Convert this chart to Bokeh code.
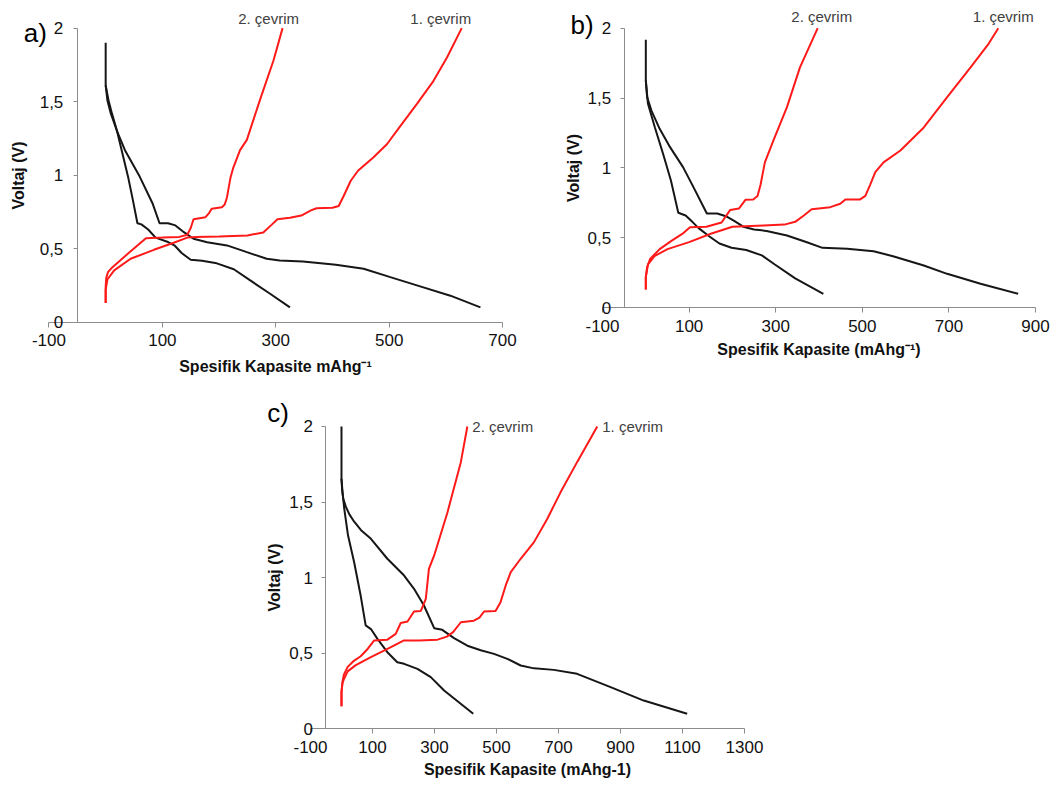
from bokeh.plotting import figure
from bokeh.models import FixedTicker, Label, Spacer
from bokeh.layouts import column, row
from bokeh.embed import file_html
from bokeh.resources import INLINE

# ---------------- data ----------------
y_ticks = [0, 0.5, 1, 1.5, 2]
y_tick_labels = ["0", "0,5", "1", "1,5", "2"]
y_title = "Voltaj (V)"
series_names = ["1. çevrim", "2. çevrim"]
y_axis_cross = -50  # capacity value where the vertical axis crosses

# panel a
a_x_ticks = [-100, 100, 300, 500, 700]
a_x_title = "Spesifik Kapasite mAhg\u207b\u00b9"
a_dis1_x = [0, 0, 3, 9, 20, 34, 60, 83, 95, 110, 123, 138, 155, 179, 214, 249, 284, 307, 348, 406, 455, 502, 549, 608, 661]
a_dis1_y = [1.90, 1.61, 1.51, 1.42, 1.30, 1.17, 0.99, 0.805, 0.673, 0.673, 0.658, 0.612, 0.567, 0.544, 0.522, 0.476, 0.431, 0.42, 0.413, 0.39, 0.363, 0.306, 0.25, 0.18, 0.10]
a_dis2_x = [0, 5, 11, 20, 30, 40, 48, 56, 63, 75, 88, 110, 122, 134, 150, 170, 196, 226, 255, 290, 325]
a_dis2_y = [1.61, 1.51, 1.42, 1.30, 1.14, 0.98, 0.83, 0.673, 0.665, 0.63, 0.575, 0.545, 0.52, 0.47, 0.424, 0.418, 0.40, 0.36, 0.284, 0.193, 0.10]
a_ch1_x = [0, 0, 3, 15, 44, 85, 120, 144, 160, 200, 250, 278, 292, 303, 325, 345, 362, 372, 400, 411, 420, 432, 445, 472, 496, 519, 549, 578, 602, 628]
a_ch1_y = [0.13, 0.22, 0.29, 0.352, 0.431, 0.492, 0.54, 0.575, 0.58, 0.582, 0.59, 0.61, 0.66, 0.70, 0.71, 0.725, 0.76, 0.775, 0.778, 0.79, 0.86, 0.96, 1.03, 1.12, 1.21, 1.33, 1.485, 1.64, 1.80, 2.0]
a_ch2_x = [0, 0, 1, 4, 12, 39, 71, 100, 130, 144, 150, 155, 176, 182, 187, 205, 210, 214, 220, 225, 237, 249, 272, 296, 312]
a_ch2_y = [0.13, 0.24, 0.30, 0.34, 0.374, 0.465, 0.571, 0.575, 0.58, 0.595, 0.64, 0.70, 0.714, 0.74, 0.771, 0.782, 0.80, 0.85, 0.98, 1.05, 1.17, 1.24, 1.51, 1.78, 2.0]

# panel b
b_x_ticks = [-100, 100, 300, 500, 700, 900]
b_x_title = "Spesifik Kapasite (mAhg\u207b\u00b9)"
b_dis1_x = [0, 0, 3, 13, 32, 56, 86, 110, 141, 165, 185, 205, 225, 250, 279, 326, 372, 408, 465, 526, 573, 642, 696, 773, 860]
b_dis1_y = [1.917, 1.626, 1.507, 1.41, 1.28, 1.149, 1.006, 0.863, 0.675, 0.675, 0.655, 0.62, 0.58, 0.56, 0.55, 0.517, 0.469, 0.429, 0.422, 0.405, 0.367, 0.303, 0.243, 0.172, 0.10]
b_dis2_x = [0, 5, 21, 40, 58, 75, 92, 108, 122, 147, 170, 198, 232, 268, 298, 345, 410]
b_dis2_y = [1.626, 1.459, 1.29, 1.10, 0.91, 0.68, 0.66, 0.613, 0.57, 0.51, 0.46, 0.43, 0.413, 0.375, 0.31, 0.21, 0.10]
b_ch1_x = [0, 0, 5, 20, 50, 100, 150, 200, 272, 320, 345, 365, 383, 426, 449, 461, 495, 507, 518, 530, 549, 588, 642, 696, 750, 792, 814]
b_ch1_y = [0.13, 0.22, 0.31, 0.37, 0.42, 0.47, 0.53, 0.58, 0.589, 0.595, 0.615, 0.66, 0.705, 0.72, 0.744, 0.775, 0.775, 0.80, 0.88, 0.97, 1.04, 1.125, 1.29, 1.507, 1.72, 1.89, 2.0]
b_ch2_x = [0, 0, 3, 10, 32, 60, 85, 102, 140, 175, 195, 215, 230, 248, 258, 265, 275, 295, 326, 356, 397]
b_ch2_y = [0.13, 0.22, 0.29, 0.35, 0.42, 0.48, 0.53, 0.577, 0.58, 0.61, 0.70, 0.71, 0.772, 0.775, 0.80, 0.88, 1.04, 1.20, 1.435, 1.72, 2.0]

# panel c
c_x_ticks = [-100, 100, 300, 500, 700, 900, 1100, 1300]
c_x_title = "Spesifik Kapasite (mAhg-1)"
c_dis1_x = [0, 0, 2, 6, 14, 25, 41, 65, 95, 148, 202, 234, 266, 299, 325, 363, 406, 449, 492, 535, 578, 621, 685, 760, 868, 975, 1115]
c_dis1_y = [2.0, 1.654, 1.58, 1.52, 1.47, 1.42, 1.37, 1.31, 1.257, 1.125, 1.014, 0.926, 0.816, 0.666, 0.655, 0.60, 0.55, 0.52, 0.496, 0.463, 0.419, 0.40, 0.39, 0.364, 0.276, 0.187, 0.10]
c_dis2_x = [0, 4, 9, 21, 41, 62, 78, 95, 116, 148, 180, 202, 245, 288, 331, 425]
c_dis2_y = [1.654, 1.55, 1.455, 1.28, 1.10, 0.88, 0.684, 0.66, 0.595, 0.507, 0.44, 0.43, 0.397, 0.342, 0.254, 0.10]
c_ch1_x = [0, 0, 3, 8, 20, 45, 90, 150, 200, 250, 310, 340, 360, 385, 427, 445, 460, 497, 513, 530, 546, 578, 621, 664, 707, 760, 825]
c_ch1_y = [0.15, 0.24, 0.30, 0.33, 0.38, 0.42, 0.47, 0.53, 0.584, 0.585, 0.59, 0.61, 0.64, 0.705, 0.715, 0.735, 0.776, 0.78, 0.838, 0.95, 1.036, 1.125, 1.235, 1.39, 1.566, 1.764, 2.0]
c_ch2_x = [0, 0, 3, 8, 20, 40, 62, 85, 105, 148, 175, 191, 213, 234, 256, 272, 282, 299, 342, 385, 406]
c_ch2_y = [0.15, 0.24, 0.31, 0.36, 0.41, 0.45, 0.48, 0.53, 0.584, 0.59, 0.628, 0.70, 0.71, 0.776, 0.78, 0.86, 1.058, 1.147, 1.433, 1.764, 2.0]

# ---------------- style ----------------
FONT = "Liberation Sans"
AXIS_COLOR = "#8c8c8c"
TEXT_COLOR = "#111111"
RED = "#ff1a1a"
BLACK = "#161616"


def make_panel(tag, x_ticks, x_title, dis1, dis2, ch1, ch2, st):
    p = figure(width=st["w"], height=st["h"], x_range=st["xr"], y_range=st["yr"],
               output_backend="svg", toolbar_location=None,
               min_border_left=0, min_border_right=0, min_border_top=0, min_border_bottom=0)
    p.outline_line_color = None
    p.grid.visible = False
    p.background_fill_color = "white"
    p.border_fill_color = "white"

    xa = p.xaxis[0]
    xa.ticker = FixedTicker(ticks=x_ticks)
    xa.bounds = (x_ticks[0], x_ticks[-1])
    xa.fixed_location = y_ticks[0]
    xa.major_label_overrides = {t: str(t) for t in x_ticks}
    xa.axis_label = x_title
    ya = p.yaxis[0]
    ya.ticker = FixedTicker(ticks=y_ticks)
    ya.bounds = (y_ticks[0], y_ticks[-1])
    ya.fixed_location = y_axis_cross
    ya.major_label_overrides = {t: s for t, s in zip(y_ticks, y_tick_labels)}
    ya.axis_label = y_title
    for ax in (xa, ya):
        ax.axis_line_color = AXIS_COLOR
        ax.major_tick_line_color = AXIS_COLOR
        ax.minor_tick_line_color = None
        ax.major_tick_in = 0
        ax.major_label_text_font = FONT
        ax.major_label_text_font_size = "17px"
        ax.major_label_text_color = TEXT_COLOR
        ax.axis_label_text_font = FONT
        ax.axis_label_text_font_size = "16px"
        ax.axis_label_text_font_style = "bold"
        ax.axis_label_text_color = TEXT_COLOR
    xa.major_tick_out = 5
    xa.major_label_standoff = st["xls"]
    xa.axis_label_standoff = st["xts"]
    ya.major_tick_out = 4
    ya.major_label_standoff = st["yls"]
    ya.axis_label_standoff = st["yts"]

    for xs, ys in (dis1, dis2):
        p.line(xs, ys, line_color=BLACK, line_width=2)
    for xs, ys in (ch1, ch2):
        p.line(xs, ys, line_color=RED, line_width=2)

    # series labels at the end of the charge curves
    for (xs, ys), name, off in ((ch1, series_names[0], st["c1"]), (ch2, series_names[1], st["c2"])):
        p.add_layout(Label(x=xs[-1], y=ys[-1], text=name, text_align=st["calign"],
                           text_baseline="middle", x_offset=off, y_offset=st["cy"],
                           text_font=FONT, text_font_size="15px", text_color="#404040"))

    # panel letter next to the top of the vertical axis
    p.add_layout(Label(x=y_axis_cross, y=y_ticks[-1], text=tag, text_align="center",
                       text_baseline="middle", x_offset=st["tx"], y_offset=st["ty"],
                       text_font=FONT, text_font_size="26px", text_color="#000000"))
    return p


pa = make_panel("a)", a_x_ticks, a_x_title,
                (a_dis1_x, a_dis1_y), (a_dis2_x, a_dis2_y), (a_ch1_x, a_ch1_y), (a_ch2_x, a_ch2_y),
                dict(w=530, h=380, xr=(-185.5, 749.3), yr=(-0.397, 2.188),
                     xls=7, xts=8, yls=10, yts=10,
                     c1=-21, c2=-14, calign="center", cy=10, tx=-42, ty=-5))
pb = make_panel("b)", b_x_ticks, b_x_title,
                (b_dis1_x, b_dis1_y), (b_dis2_x, b_dis2_y), (b_ch1_x, b_ch1_y), (b_ch2_x, b_ch2_y),
                dict(w=529, h=380, xr=(-266.3, 955.4), yr=(-0.52, 2.198),
                     xls=7, xts=6, yls=9, yts=3,
                     c1=5, c2=4, calign="center", cy=12, tx=-42, ty=3))
pc = make_panel("c)", c_x_ticks, c_x_title,
                (c_dis1_x, c_dis1_y), (c_dis2_x, c_dis2_y), (c_ch1_x, c_ch1_y), (c_ch2_x, c_ch2_y),
                dict(w=560, h=407, xr=(-293.5, 1512.9), yr=(-0.388, 2.304),
                     xls=7, xts=5, yls=9, yts=3,
                     c1=5, c2=5, calign="left", cy=0, tx=-48, ty=13))

layout = column(row(pa, pb), row(Spacer(width=250, height=407), pc))

open("out.html", "w").write(file_html(layout, INLINE))
